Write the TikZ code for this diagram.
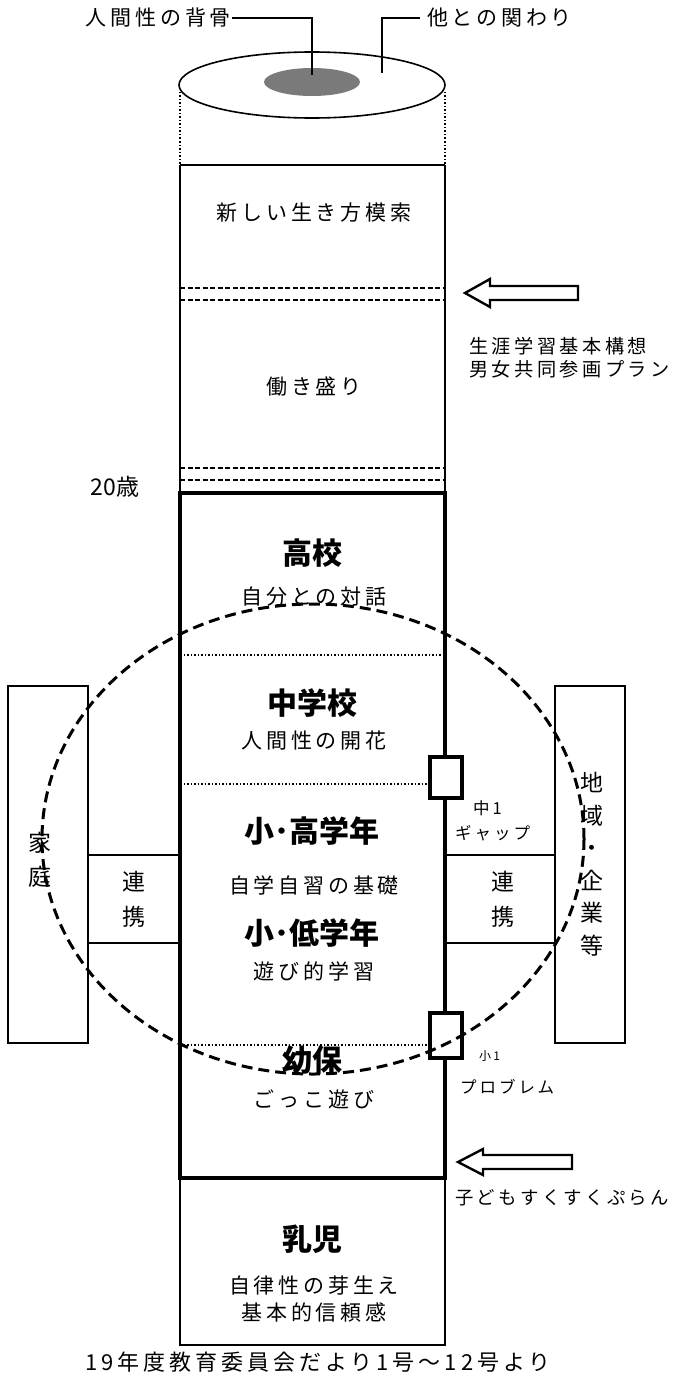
\documentclass[tikz,border=0pt]{standalone}
\usepackage{fontspec}
\newfontfamily\jp{Noto Sans CJK JP}[LetterSpace=18]
\newfontfamily\jpn{Noto Sans CJK JP}
\begin{document}
\begin{tikzpicture}[x=1pt,y=-1pt,
  lbl/.style={font=\jp\fontsize{21}{25}\selectfont, inner sep=1pt},
  sml/.style={font=\jp\fontsize{16.5}{19}\selectfont, inner sep=1pt},
  head/.style={font=\jpn\bfseries\fontsize{30}{34}\selectfont, inner sep=1pt},
  vert/.style={inner sep=1pt, align=center},
  thin/.style={line width=1.6pt},
  thick box/.style={line width=3.2pt},
  dsh/.style={line width=1.4pt, dash pattern=on 5pt off 2.5pt},
  dot/.style={line width=1.3pt, dash pattern=on 1.5pt off 2pt},
  hollow arrow/.style={line width=2.4pt, fill=white, line join=miter}]
\useasboundingbox (0,0) rectangle (677,1378);

% top ellipse
\draw[thin] (312,85) ellipse [x radius=133pt, y radius=33pt];
\fill[black!52] (312,82) ellipse [x radius=48pt, y radius=14pt];
\draw[dot] (180,92) -- (180,165);
\draw[dot] (445,92) -- (445,165);

% labels at top
\node[lbl, anchor=east] (spinelbl) at (232,18) {人間性の背骨};
\coordinate (spine) at (312,75);
\draw[thin] (spinelbl.east) -| (spine);
\node[lbl, anchor=west] (rellbl) at (426,18) {他との関わり};
\coordinate (rel) at (382,73);
\draw[thin] ([xshift=-6pt]rellbl.west) -| (rel);

% upper column
\draw[thin] (180,165) -- (445,165);
\draw[thin] (180,165) -- (180,493);
\draw[thin] (445,165) -- (445,493);
\node[lbl] (n1) at (314,213) {新しい生き方模索};
\draw[dsh] (180,288) -- (445,288);
\draw[dsh] (180,300) -- (445,300);
\node[lbl] (n2) at (314,387) {働き盛り};
\draw[dsh] (180,468) -- (445,468);
\draw[dsh] (180,480) -- (445,480);
\node[font=\jpn\fontsize{23}{26}\selectfont, inner sep=1pt] (age) at (115,487) {20歳};

% side boxes
\draw[thin] (8,686) rectangle (88,1043);
\node[vert, font=\jpn\fontsize{23}{34}\selectfont] (home) at (40,860) {家\\庭};
\draw[thin] (88,855) -- (180,855);
\draw[thin] (88,943) -- (180,943);
\node[vert, font=\jpn\fontsize{23}{35}\selectfont] (renL) at (134,899) {連\\携};
\draw[thin] (555,686) rectangle (625,1043);
\node[vert, font=\jpn\fontsize{23}{32.5}\selectfont] (comm) at (592,864) {地\\域\\・\\企\\業\\等};
\draw[thin] (445,855) -- (555,855);
\draw[thin] (445,943) -- (555,943);
\node[vert, font=\jpn\fontsize{23}{35}\selectfont] (renR) at (503,899) {連\\携};

% main thick box
\draw[thick box] (180,493) rectangle (445,1178);
\node[head] (h1) at (312,553) {高校};
\node[lbl] (s1) at (314,597) {自分との対話};
\draw[dot] (180,655) -- (445,655);
\node[head] (h2) at (312,703) {中学校};
\node[lbl] (s2) at (314,741) {人間性の開花};
\draw[dot] (180,784) -- (430,784);
\node[head] (h3) at (312,831) {小･高学年};
\node[lbl] (s3) at (314,885) {自学自習の基礎};
\node[head] (h4) at (312,933) {小･低学年};
\node[lbl] (s4) at (314,971) {遊び的学習};
\draw[dot] (180,1045) -- (430,1045);
\node[head] (h5) at (312,1060) {幼保};
\node[lbl] (s5) at (314,1099) {ごっこ遊び};

% gap boxes
\draw[thick box, fill=white] (430,757) rectangle (462,798);
\node[sml, anchor=west] (g1) at (472,808) {中1};
\node[sml, anchor=west] (g2) at (454,833) {ギャップ};
\draw[thick box, fill=white] (430,1013) rectangle (462,1058);
\node[sml, anchor=west, font=\jp\fontsize{12}{14}\selectfont] (p1) at (478,1056) {小1};
\node[sml, anchor=west] (p2) at (459,1087) {プロブレム};

% dashed circle
\draw[line width=3pt, dash pattern=on 11pt off 6pt] (313,839) ellipse [x radius=271pt, y radius=235pt];

% bottom box
\draw[thin] (180,1178) -- (180,1345) -- (445,1345) -- (445,1178);
\node[head] (h6) at (312,1239) {乳児};
\node[lbl] (s6a) at (314,1285) {自律性の芽生え};
\node[lbl] (s6b) at (314,1312) {基本的信頼感};
\node[lbl, font=\jp\fontsize{22}{25}\selectfont] (cap) at (318,1362) {19年度教育委員会だより1号〜12号より};

% arrows
\draw[hollow arrow] (465,293) -- (490,279) -- (490,286) -- (578,286) -- (578,300) -- (490,300) -- (490,307) -- cycle;
\node[lbl, anchor=west, font=\jp\fontsize{19.2}{23}\selectfont] (plan1) at (468,346) {生涯学習基本構想};
\node[lbl, anchor=west, font=\jp\fontsize{19.2}{23}\selectfont] (plan2) at (468,369) {男女共同参画プラン};
\draw[hollow arrow] (458,1162) -- (483,1149) -- (483,1155) -- (572,1155) -- (572,1169) -- (483,1169) -- (483,1175) -- cycle;
\node[lbl, anchor=west, font=\jp\fontsize{18.4}{22}\selectfont] (kids) at (454,1198) {子どもすくすくぷらん};
\end{tikzpicture}
\end{document}
